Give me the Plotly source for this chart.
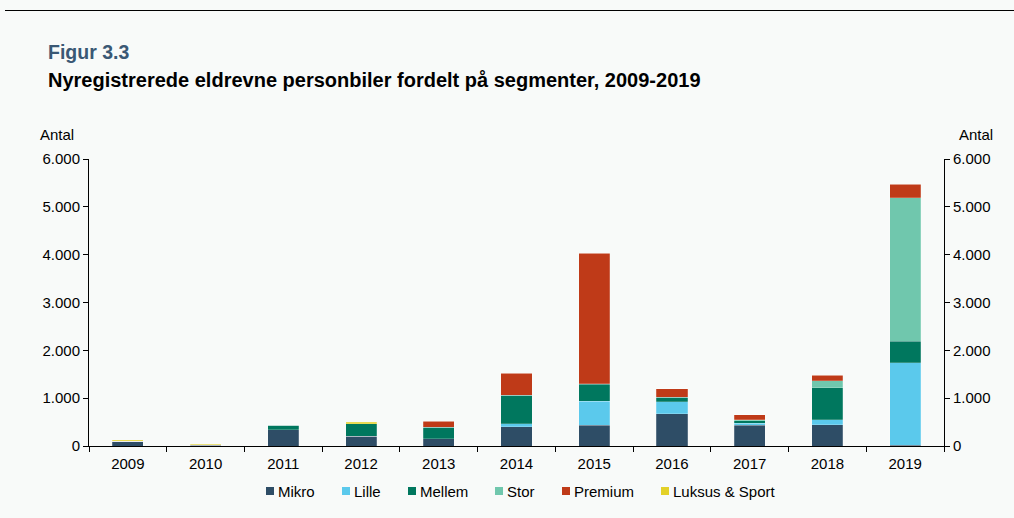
import plotly.graph_objects as go

years = ["2009", "2010", "2011", "2012", "2013", "2014", "2015", "2016", "2017", "2018", "2019"]

mikro = [100, 20, 345, 200, 150, 400, 430, 675, 430, 440, 15]
lille = [0, 0, 0, 0, 0, 70, 510, 245, 50, 105, 1725]
mellem = [0, 5, 85, 265, 245, 590, 355, 100, 50, 670, 455]
stor = [0, 0, 0, 5, 0, 0, 10, 0, 20, 150, 2990]
premium = [0, 0, 0, 0, 120, 465, 2720, 175, 105, 110, 290]
luksus = [20, 15, 10, 25, 0, 0, 0, 0, 0, 0, 0]

series = [
    ("Mikro", mikro, "#2E4D66"),
    ("Lille", lille, "#5BC9EC"),
    ("Mellem", mellem, "#00775E"),
    ("Stor", stor, "#70C7AD"),
    ("Premium", premium, "#BF3A18"),
    ("Luksus & Sport", luksus, "#E3D128"),
]

font = "Liberation Sans, Arial, sans-serif"
bg = "#F8FAF9"

# plot area in pixels (for placing texts outside the axes)
L, R, T, B = 89, 944, 159, 446
W, H = R - L, B - T


def px(x):
    return (x - L) / W


def py(y):
    return (B - y) / H


fig = go.Figure()

for name, vals, color in series:
    fig.add_trace(
        go.Bar(
            x=years,
            y=vals,
            name=name,
            marker_color=color,
            marker_line=dict(color="rgba(255,255,255,0.35)", width=0.6),
            showlegend=False,
        )
    )

# invisible trace so the right axis is drawn
fig.add_trace(
    go.Scatter(x=years, y=[None] * len(years), yaxis="y2", showlegend=False, hoverinfo="skip")
)

axis_common = dict(
    range=[0, 6000],
    dtick=1000,
    tickformat=",.0f",
    showgrid=False,
    zeroline=False,
    showline=True,
    linecolor="#000000",
    linewidth=1,
    ticks="outside",
    ticklen=5,
    tickcolor="#000000",
    tickfont=dict(family=font, size=15, color="#000000"),
)

fig.update_layout(
    barmode="stack",
    bargap=0.6,
    separators=",.",
    width=1014,
    height=518,
    paper_bgcolor=bg,
    plot_bgcolor=bg,
    margin=dict(l=L, r=1014 - R, t=T, b=518 - B),
    font=dict(family=font, size=15, color="#000000"),
    xaxis=dict(
        type="category",
        range=[-0.5, len(years) - 0.5],
        showline=True,
        linecolor="#000000",
        linewidth=1,
        ticks="outside",
        tickson="boundaries",
        ticklen=5,
        ticklabelstandoff=4,
        tickcolor="#000000",
        showgrid=False,
        tickfont=dict(family=font, size=15, color="#000000"),
    ),
    yaxis=dict(**axis_common),
    yaxis2=dict(overlaying="y", side="right", **axis_common),
    showlegend=False,
)

# titles
fig.add_annotation(
    text="<b>Figur 3.3</b>", xref="paper", yref="paper",
    x=px(46), y=py(52), xanchor="left", yanchor="middle",
    showarrow=False, font=dict(family=font, size=19.5, color="#3A5874"),
)
fig.add_annotation(
    text="<b>Nyregistrerede eldrevne personbiler fordelt på segmenter, 2009-2019</b>",
    xref="paper", yref="paper",
    x=px(46), y=py(80), xanchor="left", yanchor="middle",
    showarrow=False, font=dict(family=font, size=20, color="#000000"),
)
for ax in (57, 976):
    fig.add_annotation(
        text="Antal", xref="paper", yref="paper",
        x=px(ax), y=py(134), xanchor="center", yanchor="middle",
        showarrow=False, font=dict(family=font, size=15, color="#000000"),
    )

# rule at the top
fig.add_shape(
    type="line", xref="paper", yref="paper",
    x0=px(5), x1=px(1014), y0=py(10.5), y1=py(10.5),
    line=dict(color="#000000", width=1),
)

# legend drawn by hand: small squares followed by the label
legend_left = [266, 342, 408, 495, 562, 661]
legend_y = 491
for (name, _, color), lx in zip(series, legend_left):
    fig.add_shape(
        type="rect", xref="paper", yref="paper",
        x0=px(lx), x1=px(lx + 8), y0=py(legend_y + 4), y1=py(legend_y - 4),
        fillcolor=color, line=dict(width=0),
    )
    fig.add_annotation(
        text=name, xref="paper", yref="paper",
        x=px(lx + 10), y=py(legend_y), xanchor="left", yanchor="middle",
        showarrow=False, font=dict(family=font, size=15, color="#000000"),
    )

fig.write_html(
    "out.html",
    config={"displayModeBar": False},
    post_script="document.body.style.margin='0';document.body.style.background='#F8FAF9';",
)
